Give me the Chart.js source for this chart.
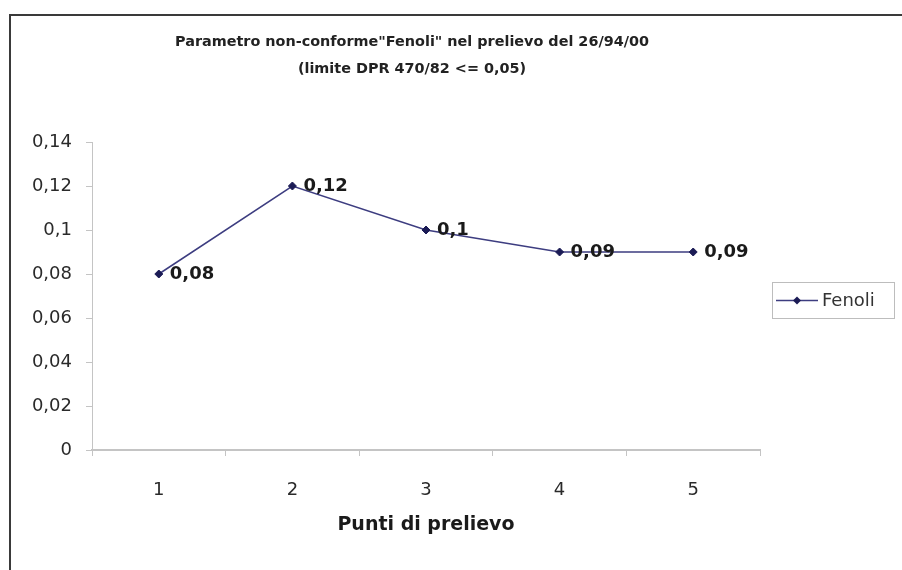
<!DOCTYPE html>
<html>
<head>
<meta charset="utf-8">
<script src="https://cdn.jsdelivr.net/npm/chart.js@4.4.1/dist/chart.umd.min.js"></script>
<style>
    html, body { margin: 0; padding: 0; background: #fff; }
    #wrap { width: 902px; height: 570px; }
</style>
</head>
<body>
<div id="wrap"><canvas id="chart" width="902" height="570"></canvas></div>
<script>
// data
const categories = ['1', '2', '3', '4', '5'];
const fenoli = [0.08, 0.12, 0.1, 0.09, 0.09];
const seriesName = 'Fenoli';
const titleLines = ['Parametro non-conforme"Fenoli" nel prelievo del 26/94/00', '(limite DPR 470/82 <= 0,05)'];
const axisTitle = 'Punti di prelievo';

const FONT = '"DejaVu Sans", "Liberation Sans", Arial, sans-serif';
const LINE = '#3d3d80';
const MARK = '#1b1b55';

function fmt(v) {
    return String(v).replace('.', ',');
}

// frame, title, value labels and legend box
const decorations = {
    id: 'decorations',
    beforeDraw(chart) {
        const ctx = chart.ctx;
        ctx.save();
        ctx.strokeStyle = '#3a3a3a';
        ctx.lineWidth = 2;
        ctx.beginPath();
        ctx.moveTo(10, 570);
        ctx.lineTo(10, 15);
        ctx.lineTo(902, 15);
        ctx.stroke();
        ctx.restore();
    },
    afterDraw(chart) {
        const ctx = chart.ctx;
        ctx.save();

        // title
        ctx.fillStyle = '#222';
        ctx.font = 'bold 14.4px ' + FONT;
        ctx.textAlign = 'center';
        ctx.textBaseline = 'middle';
        ctx.fillText(titleLines[0], 412, 42);
        ctx.fillText(titleLines[1], 412, 69);

        // value labels
        const meta = chart.getDatasetMeta(0);
        ctx.font = 'bold 18px ' + FONT;
        ctx.textAlign = 'left';
        ctx.fillStyle = '#1a1a1a';
        meta.data.forEach((pt, i) => {
            ctx.fillText(fmt(fenoli[i]), pt.x + 11, pt.y);
        });

        // legend
        const lx = 772, ly = 282, lw = 122, lh = 36;
        ctx.strokeStyle = '#bdbdbd';
        ctx.lineWidth = 1;
        ctx.strokeRect(lx + 0.5, ly + 0.5, lw, lh);
        const cy = ly + lh / 2 + 0.5;
        ctx.strokeStyle = LINE;
        ctx.lineWidth = 1.5;
        ctx.beginPath();
        ctx.moveTo(lx + 4, cy);
        ctx.lineTo(lx + 46, cy);
        ctx.stroke();
        ctx.fillStyle = MARK;
        ctx.beginPath();
        ctx.moveTo(lx + 25, cy - 4);
        ctx.lineTo(lx + 29, cy);
        ctx.lineTo(lx + 25, cy + 4);
        ctx.lineTo(lx + 21, cy);
        ctx.closePath();
        ctx.fill();
        ctx.fillStyle = '#333';
        ctx.font = '18px ' + FONT;
        ctx.textBaseline = 'middle';
        ctx.fillText(seriesName, lx + 50, cy + 1);

        ctx.restore();
    }
};

new Chart(document.getElementById('chart'), {
    type: 'line',
    data: {
        labels: categories,
        datasets: [{
            label: seriesName,
            data: fenoli,
            borderColor: LINE,
            borderWidth: 1.5,
            pointStyle: 'rectRot',
            pointRadius: 4,
            pointBackgroundColor: MARK,
            pointBorderColor: MARK,
            pointBorderWidth: 1,
            tension: 0,
        }],
    },
    options: {
        responsive: false,
        animation: false,
        layout: { padding: { left: 10, top: 142, right: 142, bottom: 30 } },
        plugins: {
            legend: { display: false },
            title: { display: false },
            tooltip: { enabled: false },
        },
        scales: {
            x: {
                offset: true,
                afterFit(scale) { scale.height = 90; },
                border: { color: '#c4c4c4', width: 2 },
                grid: { drawOnChartArea: false, offset: true, tickLength: 6, color: '#c4c4c4' },
                ticks: { color: '#2a2a2a', padding: 24, font: { family: FONT, size: 18 } },
                title: {
                    display: true,
                    text: axisTitle,
                    color: '#1a1a1a',
                    font: { family: FONT, size: 19, weight: 'bold' },
                    padding: { top: 4, bottom: 4 },
                },
            },
            y: {
                min: 0,
                max: 0.14,
                afterFit(scale) { scale.width = 82; },
                border: { color: '#c4c4c4', width: 1 },
                grid: { drawOnChartArea: false, tickLength: 6, color: '#c4c4c4' },
                ticks: {
                    stepSize: 0.02,
                    color: '#2a2a2a',
                    padding: 14,
                    font: { family: FONT, size: 18 },
                    callback: (v) => fmt(Math.round(v * 100) / 100),
                },
            },
        },
    },
    plugins: [decorations],
});
</script>
</body>
</html>
